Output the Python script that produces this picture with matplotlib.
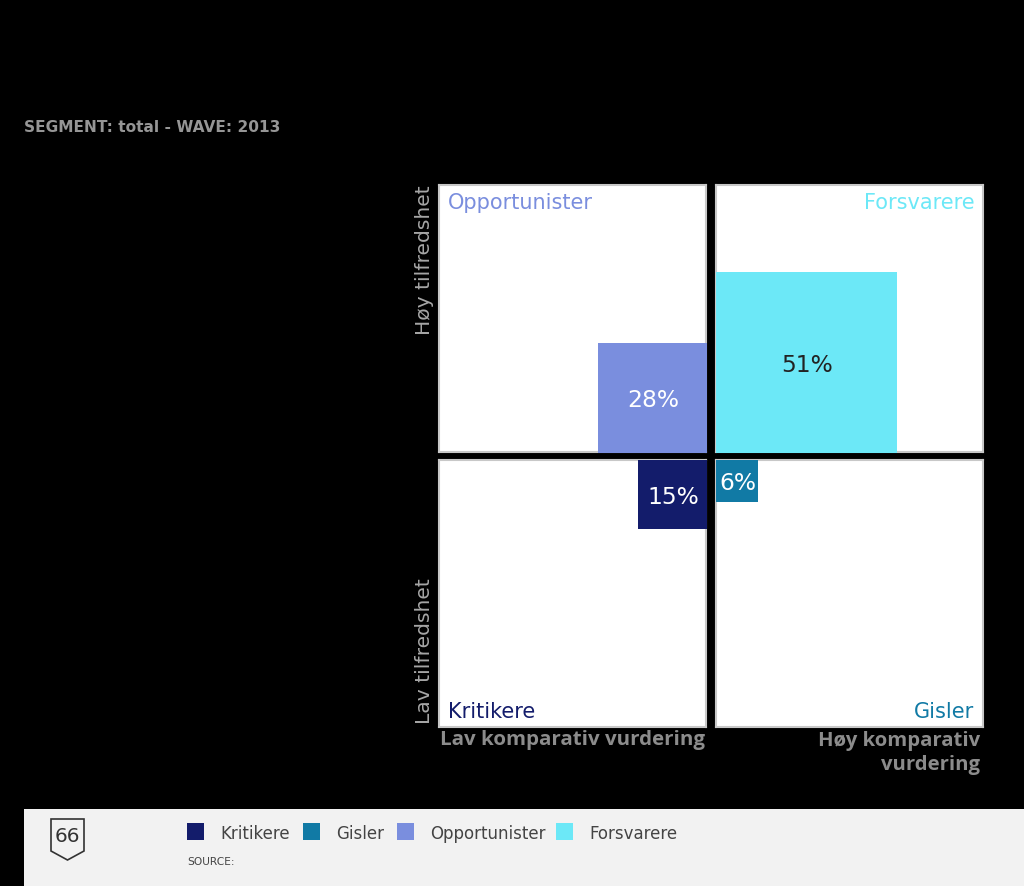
import matplotlib
matplotlib.use("Agg")
import matplotlib.pyplot as plt
from matplotlib.patches import Rectangle, Polygon

W, H = 1024, 886

segments = ["Kritikere", "Gisler", "Opportunister", "Forsvarere"]
values = [15, 6, 28, 51]
colors = ["#131c6b", "#117aa5", "#7a8ede", "#6ce8f7"]
value_colors = ["white", "white", "white", "#222222"]
y_labels = ["Høy tilfredshet", "Lav tilfredshet"]
x_labels = ["Lav komparativ vurdering", "Høy komparativ\nvurdering"]
header = "SEGMENT: total - WAVE: 2013"
score = "66"


def px_axes(x0, y0, x1, y1):
    return fig.add_axes([x0 / W, 1 - y1 / H, (x1 - x0) / W, (y1 - y0) / H])


def side(v):
    # kvadratets side i prosent av panelet
    return (23 + 3.09 * v) / 2.67


fig = plt.figure(figsize=(W / 100, H / 100), dpi=100, facecolor="black")

# panel: kolonne, rad, hjørne for kvadrat, hjørne for navn
panels = {
    "Kritikere": (439, 460, "right", "top", "left", "bottom"),
    "Gisler": (716, 460, "left", "top", "right", "bottom"),
    "Opportunister": (439, 185, "right", "bottom", "left", "top"),
    "Forsvarere": (716, 185, "left", "bottom", "right", "top"),
}

for name, v, c, vc in zip(segments, values, colors, value_colors):
    x0, y0, bx, by, tx, ty = panels[name]
    ax = px_axes(x0, y0, x0 + 267, y0 + 267)
    ax.set_xlim(0, 100)
    ax.set_ylim(0, 100)
    ax.set_xticks([])
    ax.set_yticks([])
    ax.set_facecolor("white")
    for s in ax.spines.values():
        s.set_color("#c8c8c8")
        s.set_linewidth(1.5)
    d = side(v)
    rx = 100 - d + 0.4 if bx == "right" else 0
    ry = 100 - d if by == "top" else -0.3
    ax.add_patch(Rectangle((rx, ry), d, d, facecolor=c, edgecolor="none", zorder=3, clip_on=False))
    ax.text(rx + d / 2 + 0.3, ry + d / 2 - 1.0, f"{v}%", color=vc, fontsize=16.8, ha="center", va="center",
            family="DejaVu Sans", zorder=4)
    ax.text(3.5 if tx == "left" else 96.8, 93.2 if ty == "top" else 5.5, name, color=c, fontsize=15,
            ha=tx, va="center", family="DejaVu Sans", zorder=4)

fig.text(24 / W, 1 - 128 / H, header, color="#969696", fontsize=11.05, fontweight="bold",
         family="DejaVu Sans", va="center")

fig.text(424 / W, 1 - 335 / H, y_labels[0], color="#a6a6a6", fontsize=14.6, rotation=90,
         ha="center", va="bottom", family="DejaVu Sans")
fig.text(424 / W, 1 - 724 / H, y_labels[1], color="#a6a6a6", fontsize=14.6, rotation=90,
         ha="center", va="bottom", family="DejaVu Sans")
fig.text(705 / W, 1 - 740.5 / H, x_labels[0], color="#8c8c8c", fontsize=14.75, fontweight="bold",
         ha="right", va="center", family="Open Sans")
fig.text(980 / W, 1 - 753 / H, x_labels[1], color="#8c8c8c", fontsize=14.6, fontweight="bold",
         ha="right", va="center", family="Open Sans", linespacing=1.27)

# bunnfelt
fig.add_artist(Rectangle((24 / W, 0), 1000 / W, 77 / H, transform=fig.transFigure,
                         facecolor="#f2f2f2", edgecolor="none"))
badge = [(51, 819), (84, 819), (84, 851), (67.5, 860), (51, 851)]
fig.add_artist(Polygon([(x / W, 1 - y / H) for x, y in badge], closed=True, transform=fig.transFigure,
                       facecolor="none", edgecolor="#333333", linewidth=1.2))
fig.text(67.5 / W, 1 - 837 / H, score, color="#333333", fontsize=14.5, ha="center", va="center",
         family="DejaVu Sans")

legend_x = [187, 303, 397, 556]
for name, c, lx in zip(segments, colors, legend_x):
    fig.add_artist(Rectangle((lx / W, 1 - 840 / H), 17 / W, 17 / H, transform=fig.transFigure,
                             facecolor=c, edgecolor="none"))
    fig.text((lx + 33) / W, 1 - 834 / H, name, color="#444444", fontsize=12, va="center",
             family="DejaVu Sans")
fig.text(187 / W, 1 - 862 / H, "SOURCE:", color="#444444", fontsize=7.7, va="center",
         family="DejaVu Sans")

fig.savefig("out.png", dpi=100, facecolor="black")
